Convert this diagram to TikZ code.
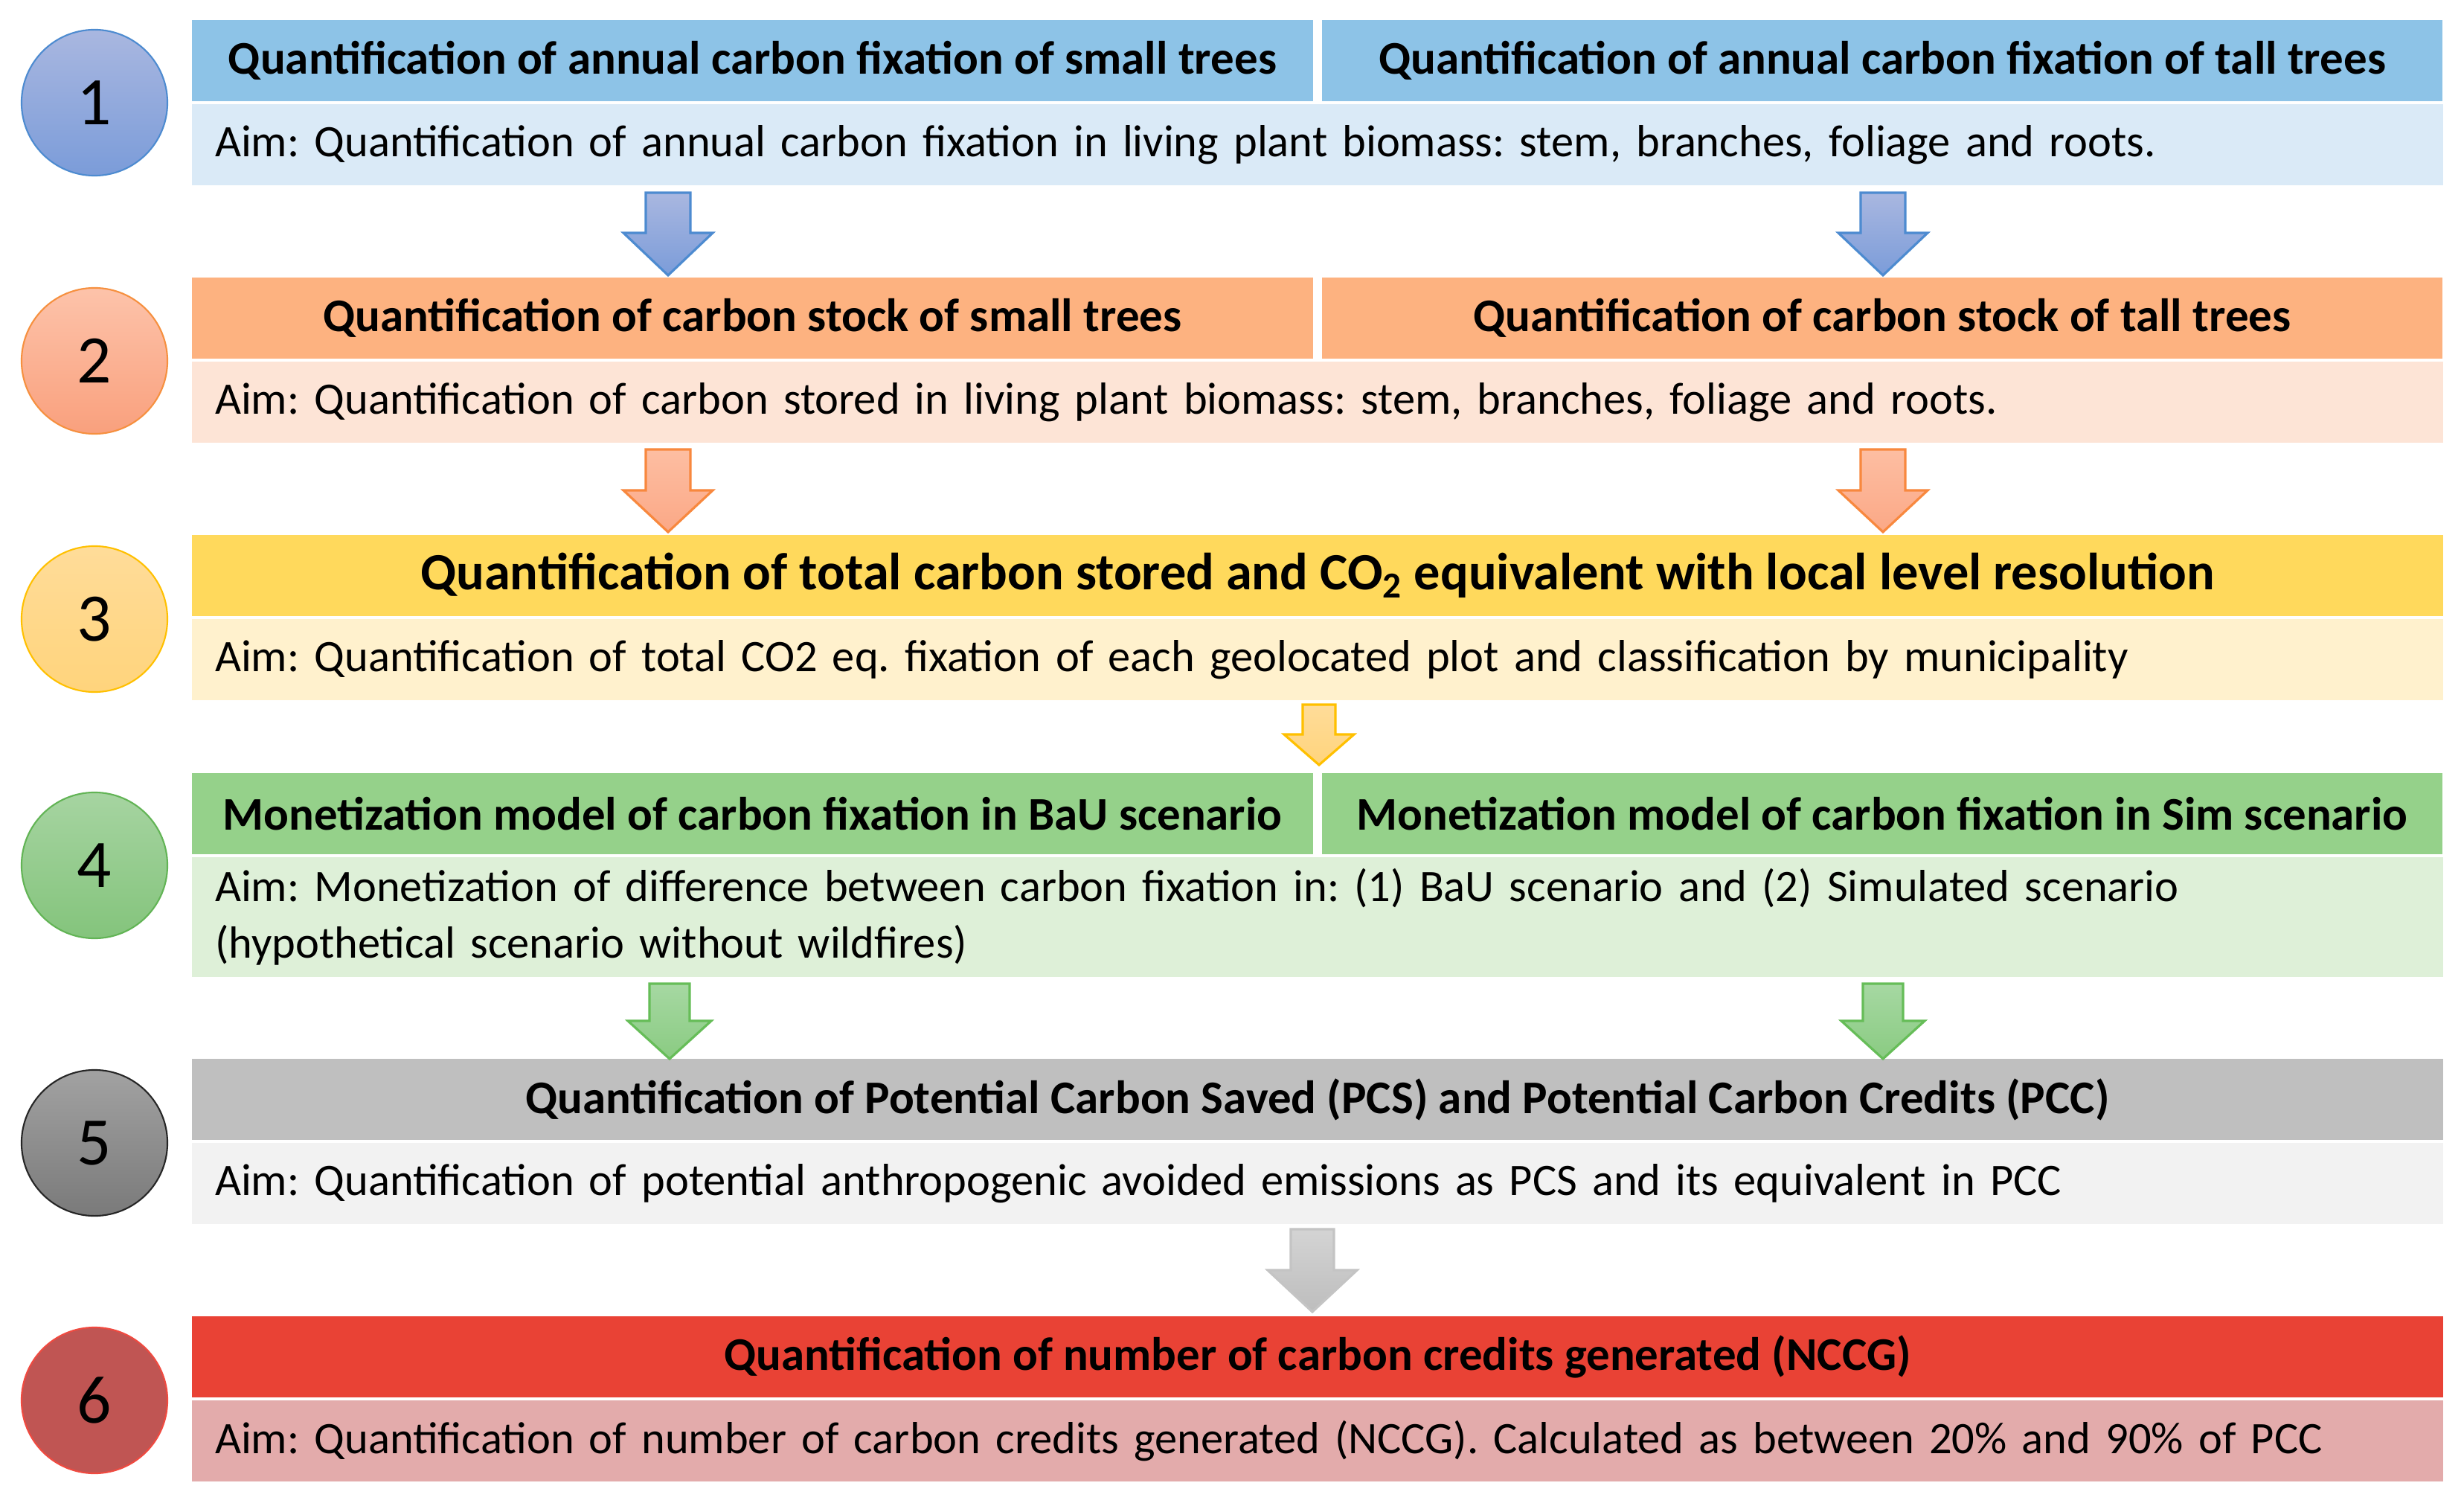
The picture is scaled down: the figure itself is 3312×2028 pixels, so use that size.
\documentclass[tikz,border=0pt]{standalone}
\usepackage{fontspec}
\setmainfont{Carlito}
\usetikzlibrary{calc}
\frenchspacing
\definecolor{h1}{HTML}{8DC3E7}\definecolor{a1}{HTML}{DAEAF7}
\definecolor{h2}{HTML}{FDB280}\definecolor{a2}{HTML}{FDE4D6}
\definecolor{h3}{HTML}{FFD95C}\definecolor{a3}{HTML}{FFF1CD}
\definecolor{h4}{HTML}{95D18A}\definecolor{a4}{HTML}{DEF0D8}
\definecolor{h5}{HTML}{BFBFBF}\definecolor{a5}{HTML}{F2F2F2}
\definecolor{h6}{HTML}{E94235}\definecolor{a6}{HTML}{E3ABAB}
\definecolor{c1t}{HTML}{A9B7E0}\definecolor{c1b}{HTML}{7B9CD9}\definecolor{c1d}{HTML}{4D8BD0}
\definecolor{c2t}{HTML}{FDC3AA}\definecolor{c2b}{HTML}{F9A07D}\definecolor{c2d}{HTML}{F6903F}
\definecolor{c3t}{HTML}{FFDC99}\definecolor{c3b}{HTML}{FFD47C}\definecolor{c3d}{HTML}{FFC000}
\definecolor{c4t}{HTML}{A6D4A1}\definecolor{c4b}{HTML}{84C47C}\definecolor{c4d}{HTML}{62B455}
\definecolor{c5t}{HTML}{A2A2A2}\definecolor{c5b}{HTML}{7A7A7A}\definecolor{c5d}{HTML}{262626}
\definecolor{c6f}{HTML}{C05553}\definecolor{c6d}{HTML}{F04A40}
\definecolor{g5t}{HTML}{D4D4D4}\definecolor{g5b}{HTML}{BDBDBD}\definecolor{g5d}{HTML}{C4C4C4}
\definecolor{g2t}{HTML}{FDBEA2}\definecolor{g2b}{HTML}{FBA886}\definecolor{g2d}{HTML}{F8883E}
\definecolor{g4t}{HTML}{A6D8A2}\definecolor{g4b}{HTML}{8ACB82}\definecolor{g4d}{HTML}{66BD58}
\newcommand\blockarrow[7]{%
  \path[#7] ({#1-#5},#2) -- ({#1+#5},#2) -- ({#1+#5},#3) -- ({#1+#6},#3)
    -- (#1,#4) -- ({#1-#6},#3) -- ({#1-#5},#3) -- cycle;}
\tikzset{
  hdr/.style={rectangle, inner sep=0pt, outer sep=0pt, anchor=north west,
    minimum height=1.09cm, font=\fontsize{17.9}{21}\selectfont\bfseries, align=center},
  halfL/.style={hdr, minimum width=15.06cm},
  halfR/.style={hdr, minimum width=15.05cm},
  fullh/.style={hdr, minimum width=30.24cm},
  aimbox/.style={rectangle, inner xsep=0.31cm, inner ysep=0pt, outer sep=0pt,
    anchor=north west, minimum height=1.09cm, text width=29.62cm,
    font=\fontsize{17.2}{21.6}\selectfont\frenchspacing, align=left},
  numc/.style={circle, minimum size=1.96cm, inner sep=0pt, line width=0.6pt,
    font=\fontsize{26}{30}\selectfont},
  arr/.style={line width=0.9pt, line join=miter},
}
\begin{document}
\begin{tikzpicture}[x=0.01cm, y=-0.01cm]
\useasboundingbox[fill=white] (0,0) rectangle (3312,2028);
% row 1
\node[halfL, fill=h1] (h1l) at (258,27) {Quantification of annual carbon fixation of small trees};
\node[halfR, fill=h1] (h1r) at (1777,27) {Quantification of annual carbon fixation of tall trees};
\node[aimbox, fill=a1] (a1) at (258,140) {Aim: Quantification of annual carbon fixation in living plant biomass: stem, branches, foliage and roots.};
% row 2
\node[halfL, fill=h2] (h2l) at (258,373) {Quantification of carbon stock of small trees};
\node[halfR, fill=h2] (h2r) at (1777,373) {Quantification of carbon stock of tall trees};
\node[aimbox, fill=a2] (a2) at (258,486) {Aim: Quantification of carbon stored in living plant biomass: stem, branches, foliage and roots.};
% row 3
\node[fullh, fill=h3, font=\fontsize{20}{23}\selectfont\bfseries] (h3) at (258,719) {Quantification of total carbon stored and CO\textsubscript{2} equivalent with local level resolution};
\node[aimbox, fill=a3] (a3) at (258,832) {Aim: Quantification of total CO2 eq. fixation of each geolocated plot and classification by municipality};
% row 4
\node[halfL, fill=h4] (h4l) at (258,1039) {Monetization model of carbon fixation in BaU scenario};
\node[halfR, fill=h4] (h4r) at (1777,1039) {Monetization model of carbon fixation in Sim scenario};
\node[aimbox, fill=a4, minimum height=1.61cm] (a4) at (258,1152) {Aim: Monetization of difference between carbon fixation in: (1) BaU scenario and (2) Simulated scenario\\(hypothetical scenario without wildfires)};
% row 5
\node[fullh, fill=h5] (h5) at (258,1423) {Quantification of Potential Carbon Saved (PCS) and Potential Carbon Credits (PCC)};
\node[aimbox, fill=a5] (a5) at (258,1536) {Aim: Quantification of potential anthropogenic avoided emissions as PCS and its equivalent in PCC};
% row 6
\node[fullh, fill=h6] (h6) at (258,1769) {Quantification of number of carbon credits generated (NCCG)};
\node[aimbox, fill=a6] (a6) at (258,1882) {Aim: Quantification of number of carbon credits generated (NCCG). Calculated as between 20\% and 90\% of PCC};
% circles
\node[numc, draw=c1d, top color=c1t, bottom color=c1b] (n1) at (127,138) {1};
\node[numc, draw=c2d, top color=c2t, bottom color=c2b] (n2) at (127,485) {2};
\node[numc, draw=c3d, top color=c3t, bottom color=c3b] (n3) at (127,832) {3};
\node[numc, draw=c4d, top color=c4t, bottom color=c4b] (n4) at (127,1163) {4};
\node[numc, draw=c5d, top color=c5t, bottom color=c5b] (n5) at (127,1536) {5};
\node[numc, draw=c6d, fill=c6f] (n6) at (127,1882) {6};
% arrows
\blockarrow{898}{259}{313}{370}{30}{60}{arr, draw=c1d, top color=c1t, bottom color=c1b}
\blockarrow{2531}{259}{313}{370}{30}{60}{arr, draw=c1d, top color=c1t, bottom color=c1b}
\blockarrow{898}{604}{659}{715}{30}{60}{arr, draw=g2d, top color=g2t, bottom color=g2b}
\blockarrow{2531}{604}{659}{715}{30}{60}{arr, draw=g2d, top color=g2t, bottom color=g2b}
\blockarrow{1773}{947}{987}{1028}{22}{47}{arr, draw=c3d, top color=c3t, bottom color=c3b}
\blockarrow{900}{1322}{1372}{1423}{27}{56}{arr, draw=g4d, top color=g4t, bottom color=g4b}
\blockarrow{2531}{1322}{1372}{1423}{27}{56}{arr, draw=g4d, top color=g4t, bottom color=g4b}
\blockarrow{1764}{1652}{1707}{1763}{29}{60}{arr, draw=g5d, top color=g5t, bottom color=g5b}
\end{tikzpicture}
\end{document}
